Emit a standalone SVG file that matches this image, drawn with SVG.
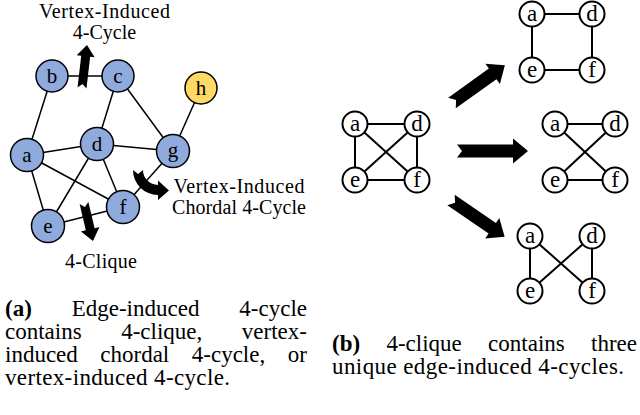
<svg xmlns="http://www.w3.org/2000/svg" width="640" height="415" viewBox="0 0 640 415">
<style>
.e{stroke:#000;stroke-width:1.5;fill:none}
.eb{stroke:#000;stroke-width:2;fill:none}
.nb{fill:#8FAADC;stroke:#000;stroke-width:1.5}
.ny{fill:#FFD966;stroke:#000;stroke-width:1.5}
.nw{fill:#fff;stroke:#000;stroke-width:2}
.lab{font-family:"Liberation Serif","Times New Roman",serif;font-size:21px;text-anchor:middle;fill:#000}
.labb{font-family:"Liberation Serif","Times New Roman",serif;font-size:23px;text-anchor:middle;fill:#000}
.t{font-family:"Liberation Serif","Times New Roman",serif;font-size:20px;fill:#000;text-anchor:middle}
.c{font-family:"Liberation Serif","Times New Roman",serif;font-size:23px;fill:#000}
.bold{font-weight:bold}
.end{text-anchor:end}
.arr{fill:#000}
</style>
<g id="connectors-a">
<line class="e" x1="52" y1="76" x2="118" y2="76"/>
<line class="e" x1="52" y1="76" x2="27" y2="155"/>
<line class="e" x1="118" y1="76" x2="97" y2="144"/>
<line class="e" x1="118" y1="76" x2="173" y2="151"/>
<line class="e" x1="201" y1="88" x2="173" y2="151"/>
<line class="e" x1="27" y1="155" x2="97" y2="144"/>
<line class="e" x1="97" y1="144" x2="173" y2="151"/>
<line class="e" x1="27" y1="155" x2="48" y2="226"/>
<line class="e" x1="27" y1="155" x2="123" y2="207"/>
<line class="e" x1="97" y1="144" x2="48" y2="226"/>
<line class="e" x1="97" y1="144" x2="123" y2="207"/>
<line class="e" x1="48" y1="226" x2="123" y2="207"/>
<line class="e" x1="123" y1="207" x2="173" y2="151"/>
</g>
<g id="node-b"><circle class="nb" cx="52" cy="76" r="16"/><text class="lab" x="52" y="83">b</text></g>
<g id="node-c"><circle class="nb" cx="118" cy="76" r="16"/><text class="lab" x="118" y="83">c</text></g>
<g id="node-h"><circle class="ny" cx="201" cy="88" r="16"/><text class="lab" x="201" y="95">h</text></g>
<g id="node-a"><circle class="nb" cx="27" cy="155" r="16.5"/><text class="lab" x="27" y="162">a</text></g>
<g id="node-d"><circle class="nb" cx="97" cy="144" r="16.5"/><text class="lab" x="97" y="151">d</text></g>
<g id="node-g"><circle class="nb" cx="173" cy="151" r="16.5"/><text class="lab" x="173" y="157">g</text></g>
<g id="node-f"><circle class="nb" cx="123" cy="207" r="16.5"/><text class="lab" x="123" y="214">f</text></g>
<g id="node-e"><circle class="nb" cx="48" cy="226" r="16.5"/><text class="lab" x="48" y="233">e</text></g>
<g id="arrows-a">
<polygon class="arr" transform="translate(82,88) rotate(-83.4)" points="0,-4.5 32,-4.5 32,-9 43.3,0 32,9 32,4.5 0,4.5 4,0"/>
<polygon class="arr" transform="translate(84,203) rotate(76.7)" points="0,-4.5 27,-4.5 27,-9.5 39,0 27,9.5 27,4.5 0,4.5 4,0"/>
<path class="arr" d="M133 170 L138 174 L143 170 A15 15 0 0 0 158 185 L158 180.5 L169 190.5 L158 200 L158 195 A25 25 0 0 1 133 170 Z"/>
</g>
<g id="labels-a">
<text class="t" x="104.5" y="17.5" textLength="131" lengthAdjust="spacing">Vertex-Induced</text>
<text class="t" x="104.5" y="38.5">4-Cycle</text>
<text class="t" x="239" y="193" textLength="131" lengthAdjust="spacing">Vertex-Induced</text>
<text class="t" x="239" y="213.5" textLength="134" lengthAdjust="spacing">Chordal 4-Cycle</text>
<text class="t" x="101" y="268" textLength="72" lengthAdjust="spacing">4-Clique</text>
</g>
<g id="connectors-b">
<line class="eb" x1="355" y1="124" x2="417" y2="124"/>
<line class="eb" x1="355" y1="180" x2="417" y2="180"/>
<line class="eb" x1="355" y1="124" x2="355" y2="180"/>
<line class="eb" x1="417" y1="124" x2="417" y2="180"/>
<line class="eb" x1="355" y1="124" x2="417" y2="180"/>
<line class="eb" x1="417" y1="124" x2="355" y2="180"/>
<line class="eb" x1="532" y1="14" x2="592" y2="14"/>
<line class="eb" x1="532" y1="70" x2="592" y2="70"/>
<line class="eb" x1="532" y1="14" x2="532" y2="70"/>
<line class="eb" x1="592" y1="14" x2="592" y2="70"/>
<line class="eb" x1="555" y1="124" x2="615" y2="124"/>
<line class="eb" x1="555" y1="180" x2="615" y2="180"/>
<line class="eb" x1="555" y1="124" x2="615" y2="180"/>
<line class="eb" x1="615" y1="124" x2="555" y2="180"/>
<line class="eb" x1="530" y1="236" x2="530" y2="291"/>
<line class="eb" x1="592" y1="236" x2="592" y2="291"/>
<line class="eb" x1="530" y1="236" x2="592" y2="291"/>
<line class="eb" x1="592" y1="236" x2="530" y2="291"/>
</g>
<g id="k4">
<g id="k4-a"><circle class="nw" cx="355" cy="124" r="12.5"/><text class="labb" x="355" y="131">a</text></g>
<g id="k4-d"><circle class="nw" cx="417" cy="124" r="12.5"/><text class="labb" x="417" y="131">d</text></g>
<g id="k4-e"><circle class="nw" cx="355" cy="180" r="12.5"/><text class="labb" x="355" y="187">e</text></g>
<g id="k4-f"><circle class="nw" cx="417" cy="180" r="12.5"/><text class="labb" x="417" y="187">f</text></g>
</g>
<g id="c1">
<g id="c1-a"><circle class="nw" cx="532" cy="14" r="12.5"/><text class="labb" x="532" y="21">a</text></g>
<g id="c1-d"><circle class="nw" cx="592" cy="14" r="12.5"/><text class="labb" x="592" y="21">d</text></g>
<g id="c1-e"><circle class="nw" cx="532" cy="70" r="12.5"/><text class="labb" x="532" y="77">e</text></g>
<g id="c1-f"><circle class="nw" cx="592" cy="70" r="12.5"/><text class="labb" x="592" y="77">f</text></g>
</g>
<g id="c2">
<g id="c2-a"><circle class="nw" cx="555" cy="124" r="12.5"/><text class="labb" x="555" y="131">a</text></g>
<g id="c2-d"><circle class="nw" cx="615" cy="124" r="12.5"/><text class="labb" x="615" y="131">d</text></g>
<g id="c2-e"><circle class="nw" cx="555" cy="180" r="12.5"/><text class="labb" x="555" y="187">e</text></g>
<g id="c2-f"><circle class="nw" cx="615" cy="180" r="12.5"/><text class="labb" x="615" y="187">f</text></g>
</g>
<g id="c3">
<g id="c3-a"><circle class="nw" cx="530" cy="236" r="12.5"/><text class="labb" x="530" y="243">a</text></g>
<g id="c3-d"><circle class="nw" cx="592" cy="236" r="12.5"/><text class="labb" x="592" y="243">d</text></g>
<g id="c3-e"><circle class="nw" cx="530" cy="291" r="12.5"/><text class="labb" x="530" y="298">e</text></g>
<g id="c3-f"><circle class="nw" cx="592" cy="291" r="12.5"/><text class="labb" x="592" y="298">f</text></g>
</g>
<g id="arrows-b">
<polygon class="arr" transform="translate(452,103) rotate(-35.6)" points="0,-6.5 50,-6.5 50,-12.5 65,0 50,12.5 50,6.5 0,6.5 5,0"/>
<polygon class="arr" transform="translate(457,151)" points="0,-6.5 56,-6.5 56,-12.5 71,0 56,12.5 56,6.5 0,6.5 5,0"/>
<polygon class="arr" transform="translate(451,200) rotate(34.4)" points="0,-6.5 50,-6.5 50,-12.5 65,0 50,12.5 50,6.5 0,6.5 5,0"/>
</g>
<g id="caption-a">
<text class="c bold" x="5" y="316">(a)</text>
<text class="c" x="71.7" y="316">Edge-induced</text>
<text class="c end" x="307" y="316">4-cycle</text>
<text class="c" x="5" y="339">contains</text>
<text class="c" x="121.2" y="339">4-clique,</text>
<text class="c end" x="307" y="339">vertex-</text>
<text class="c" x="5" y="362">induced</text>
<text class="c" x="100.3" y="362">chordal</text>
<text class="c" x="191.8" y="362">4-cycle,</text>
<text class="c end" x="307" y="362">or</text>
<text class="c" x="5" y="385" textLength="225" lengthAdjust="spacing">vertex-induced 4-cycle.</text>
</g>
<g id="caption-b">
<text class="c bold" x="332" y="351">(b)</text>
<text class="c" x="386.4" y="351">4-clique</text>
<text class="c" x="488.1" y="351">contains</text>
<text class="c end" x="637" y="351">three</text>
<text class="c" x="332" y="374" textLength="292" lengthAdjust="spacing">unique edge-induced 4-cycles.</text>
</g>
</svg>
